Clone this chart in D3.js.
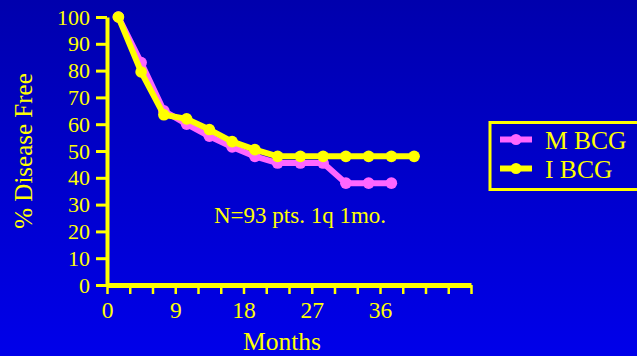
<!DOCTYPE html>
<html>

<head>
    <script src="https://cdnjs.cloudflare.com/ajax/libs/d3/7.8.5/d3.min.js"></script>
    <style>
        body {
            margin: 0;
            overflow: hidden;
        }

        text {
            font-family: 'Liberation Serif', 'Times New Roman', serif;
            fill: #ffff00;
        }
    </style>
</head>

<body>
    <div id="root"></div>
    <script>
        // months where the curves were read
        const months = [1.5, 4.5, 7.5, 10.5, 13.5, 16.5, 19.5, 22.5, 25.5, 28.5, 31.5, 34.5, 37.5, 40.5]
        const mBcg = [100, 83, 65, 60, 55.5, 51.5, 48, 45.5, 45.5, 45.5, 38, 38, 38]
        const iBcg = [100, 79.5, 63.5, 62, 58, 53.5, 50.5, 48, 48, 48, 48, 48, 48, 48]
        const seriesNames = ['M BCG', 'I BCG']
        const seriesColors = ['#ff66ff', '#ffff00']
        const yTicks = [0, 10, 20, 30, 40, 50, 60, 70, 80, 90, 100]
        const xTicks = d3.range(0, 49, 3)
        const xLabels = [0, 9, 18, 27, 36]

        const w = 637
        const h = 356

        const svg = d3.select('#root')
            .append('svg')
            .attr('width', w)
            .attr('height', h)

        const grad = svg.append('defs')
            .append('linearGradient')
            .attr('id', 'bg')
            .attr('x1', 0).attr('y1', 0)
            .attr('x2', 0).attr('y2', 1)
        grad.append('stop').attr('offset', '0%').attr('stop-color', '#0000ad')
        grad.append('stop').attr('offset', '100%').attr('stop-color', '#0000ea')

        svg.append('rect')
            .attr('width', w)
            .attr('height', h)
            .attr('fill', 'url(#bg)')

        const x = d3.scaleLinear().domain([0, 48]).range([107, 471])
        const y = d3.scaleLinear().domain([0, 100]).range([285, 17])

        // y axis
        const yAxis = svg.append('g')
            .attr('transform', 'translate(' + x(0) + ',0)')
            .call(d3.axisLeft(y).tickValues(yTicks).tickSize(11).tickSizeOuter(0).tickPadding(6))
        yAxis.select('.domain').attr('stroke', '#ffff00').attr('stroke-width', 4)
        yAxis.selectAll('.tick line').attr('stroke', '#ffff00').attr('stroke-width', 3)
        yAxis.selectAll('.tick text')
            .attr('fill', '#ffff00')
            .style('font-size', '22px')
            .style('font-family', "'Liberation Serif', serif")

        // x axis
        const xAxis = svg.append('g')
            .attr('transform', 'translate(0,' + y(0) + ')')
            .call(d3.axisBottom(x).tickValues(xTicks).tickSize(9).tickSizeOuter(0).tickPadding(7)
                .tickFormat(d => xLabels.includes(d) ? d : ''))
        xAxis.select('.domain').attr('stroke', '#ffff00').attr('stroke-width', 5)
        xAxis.selectAll('.tick line').attr('stroke', '#ffff00').attr('stroke-width', 2.5)
        xAxis.selectAll('.tick text')
            .attr('fill', '#ffff00')
            .style('font-size', '23.5px')
            .style('font-family', "'Liberation Serif', serif")

        // curves
        const line = d3.line()
            .x(d => x(d[0]))
            .y(d => y(d[1]))

        const allSeries = [mBcg, iBcg]
        allSeries.forEach((vals, si) => {
            const pts = vals.map((v, i) => [months[i], v])
            svg.append('path')
                .datum(pts)
                .attr('d', line)
                .attr('fill', 'none')
                .attr('stroke', seriesColors[si])
                .attr('stroke-width', 6)
                .attr('stroke-linejoin', 'round')
            svg.selectAll('.dot' + si)
                .data(pts)
                .enter()
                .append('circle')
                .attr('class', 'dot' + si)
                .attr('cx', d => x(d[0]))
                .attr('cy', d => y(d[1]))
                .attr('r', 5.8)
                .attr('fill', seriesColors[si])
        })

        // labels
        svg.append('text')
            .attr('x', 282)
            .attr('y', 350)
            .attr('text-anchor', 'middle')
            .style('font-size', '25.5px')
            .text('Months')

        svg.append('text')
            .attr('transform', 'translate(32,151) rotate(-90)')
            .attr('text-anchor', 'middle')
            .style('font-size', '25px')
            .text('% Disease Free')

        svg.append('text')
            .attr('x', 214)
            .attr('y', 223)
            .style('font-size', '23px')
            .text('N=93 pts. 1q 1mo.')

        // legend
        const legend = svg.append('g')
        legend.append('rect')
            .attr('x', 490)
            .attr('y', 122.5)
            .attr('width', 150)
            .attr('height', 67)
            .attr('fill', 'none')
            .attr('stroke', '#ffff00')
            .attr('stroke-width', 3)

        seriesNames.forEach((name, i) => {
            const ly = 139.5 + i * 29
            legend.append('line')
                .attr('x1', 500).attr('x2', 532)
                .attr('y1', ly).attr('y2', ly)
                .attr('stroke', seriesColors[i])
                .attr('stroke-width', 6)
            legend.append('circle')
                .attr('cx', 516).attr('cy', ly)
                .attr('r', 5.5)
                .attr('fill', seriesColors[i])
            legend.append('text')
                .attr('x', 545)
                .attr('y', ly + 9)
                .style('font-size', '25.5px')
                .text(name)
        })
    </script>
</body>

</html>
